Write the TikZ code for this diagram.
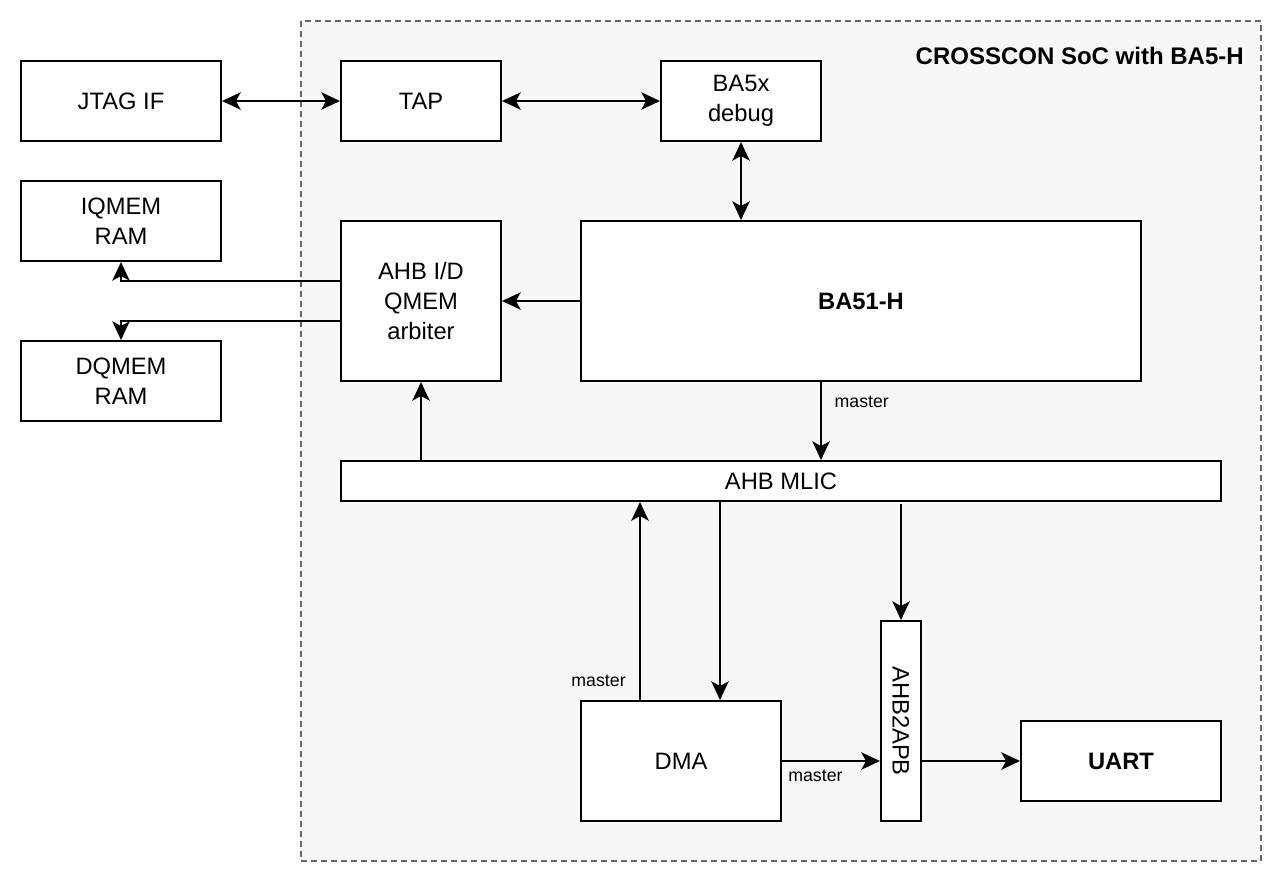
\documentclass[tikz,border=0pt]{standalone}
\usepackage{fontspec}
\setmainfont{Liberation Sans}
\usepackage{xcolor}
\usepackage{tikz}
\usetikzlibrary{positioning,calc,arrows.meta}

\definecolor{socfill}{HTML}{F7F7F7}
\definecolor{socline}{HTML}{666666}

\begin{document}
\begin{tikzpicture}[
                x=0.75pt, y=-0.75pt,
                block/.style={draw=black, line width=1.5pt, fill=white, inner sep=0pt, align=center,
                    font=\fontsize{17.8}{22.5}\selectfont},
                lbl/.style={inner sep=0pt, font=\fontsize{13.3}{16}\selectfont},
                arrow/.style={-{Stealth[length=14pt, width=13pt, inset=3.5pt]}, draw=black, line width=1.5pt},
                biarrow/.style={{Stealth[length=14pt, width=13pt, inset=3.5pt]}-{Stealth[length=14pt, width=13pt, inset=3.5pt]}, draw=black, line width=1.5pt}
            ]
                \useasboundingbox (0,0) rectangle (1282,882);
                \fill[white] (0,0) rectangle (1282,882);

                % SoC area
                \node[draw=socline, fill=socfill, line width=1.5pt, dash pattern=on 4.5pt off 3pt,
                    minimum width=720pt, minimum height=630pt] (soc) at (781,441) {};
                \node[anchor=east, inner sep=0pt, font=\fontsize{18}{22.5}\selectfont\bfseries] (title) at (1244,56) {CROSSCON SoC with BA5-H};

                % blocks
                \node[block, minimum width=150pt, minimum height=60pt] (jtag) at (121,101) {JTAG IF};
                \node[block, minimum width=120pt, minimum height=60pt] (tap) at (421,101) {TAP};
                \node[block, minimum width=120pt, minimum height=60pt] (dbg) at (741,101) {BA5x\\debug};
                \node[block, minimum width=150pt, minimum height=60pt] (iqmem) at (121,221) {IQMEM\\RAM};
                \node[block, minimum width=150pt, minimum height=60pt] (dqmem) at (121,381) {DQMEM\\RAM};
                \node[block, minimum width=120pt, minimum height=120pt] (arb) at (421,301) {AHB I/D\\QMEM\\arbiter};
                \node[block, minimum width=420pt, minimum height=120pt, font=\fontsize{17.8}{22.5}\selectfont\bfseries] (core) at (861,301) {BA51-H};
                \node[block, minimum width=660pt, minimum height=30pt] (mlic) at (781,481) {AHB MLIC};
                \node[block, minimum width=150pt, minimum height=90pt] (dma) at (681,761) {DMA};
                \node[block, minimum width=30pt, minimum height=150pt] (apb) at (901,721) {};
                \node[inner sep=0pt, rotate=-90, font=\fontsize{17.8}{22.5}\selectfont] (apbtext) at (apb.center) {AHB2APB};
                \node[block, minimum width=150pt, minimum height=60pt, font=\fontsize{17.8}{22.5}\selectfont\bfseries] (uart) at (1121,761) {UART};

                % connections
                \draw[biarrow] (jtag.east) -- (tap.west);
                \draw[biarrow] (tap.east) -- (dbg.west);
                \draw[biarrow] (dbg.south) -- (dbg.south |- core.north);
                \draw[arrow] (core.west |- arb.east) -- (arb.east);
                \draw[arrow] ([yshift=15pt]arb.west) -| (iqmem.south);
                \draw[arrow] ([yshift=-15pt]arb.west) -| (dqmem.north);
                \draw[arrow] (arb.south |- mlic.north) -- (arb.south);
                \coordinate (coremst) at ($(core.south west)+(241,0)$);
                \draw[arrow] (coremst) -- (coremst |- mlic.north)
                    node[lbl, anchor=west, pos=0.26, xshift=9.5pt] {master};
                \coordinate (dmamst) at ($(dma.north west)+(60,0)$);
                \draw[arrow] (dmamst) -- (dmamst |- mlic.south)
                    node[lbl, anchor=east, pos=0.095, xshift=-10pt] {master};
                \coordinate (dmaslv) at ($(dma.north west)+(140,0)$);
                \draw[arrow] (dmaslv |- mlic.south) -- (dmaslv);
                \draw[arrow] ([yshift=-1.5pt]apb.north |- mlic.south) -- (apb.north);
                \draw[arrow] (dma.east) -- (dma.east -| apb.west)
                    node[lbl, anchor=north west, pos=0, xshift=4pt, yshift=-6pt] {master};
                \draw[arrow] (apb.east |- uart.west) -- (uart.west);
            \end{tikzpicture}
\end{document}
